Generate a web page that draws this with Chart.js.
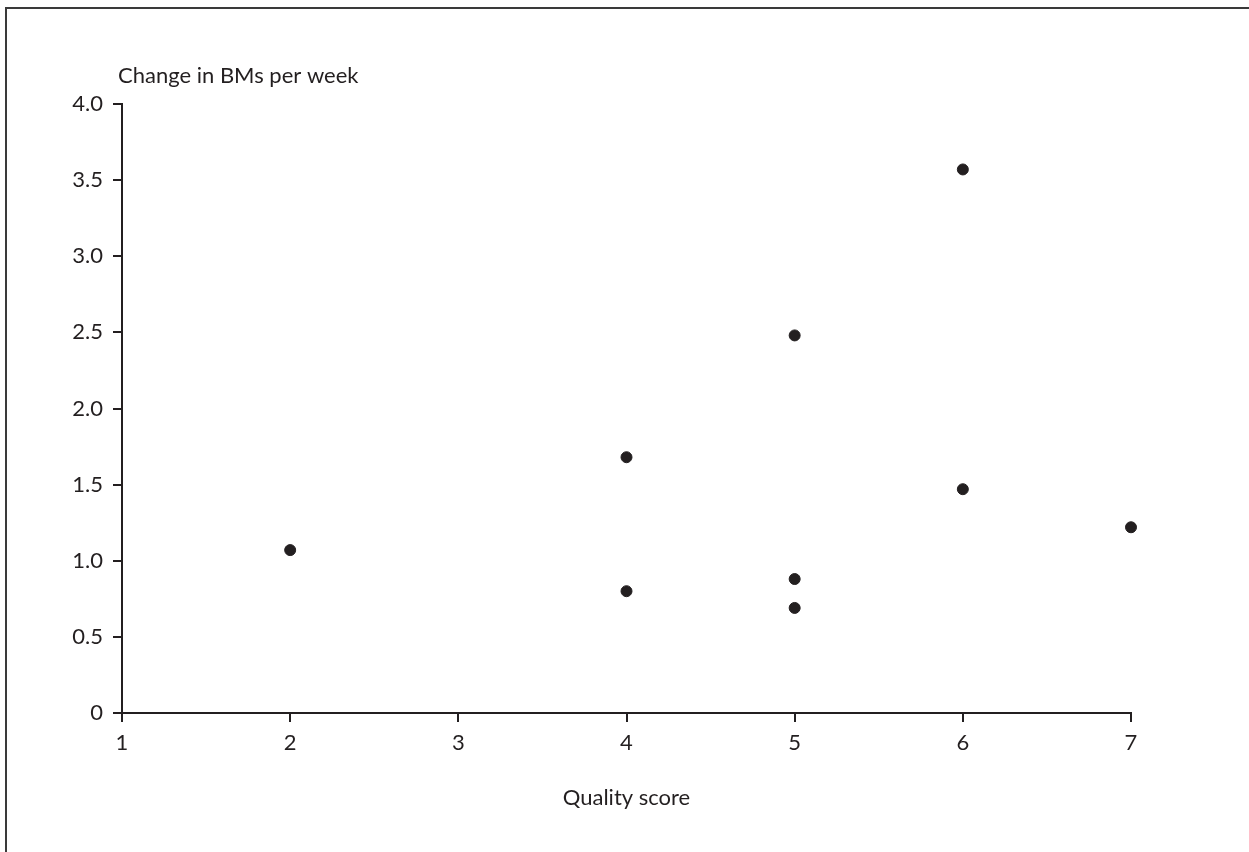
<!DOCTYPE html>
<html>
<head>
<meta charset="utf-8">
<script src="https://cdn.jsdelivr.net/npm/chart.js@4"></script>
<style>
    body { margin: 0; background: #fff; }
    #wrap { position: relative; width: 1249px; height: 852px; overflow: hidden; }
    #frame { position: absolute; left: 5px; top: 7px; right: -10px; bottom: -10px;
             border-left: 2px solid #3a3a3a; border-top: 2px solid #3a3a3a; }
</style>
</head>
<body>
<div id="wrap">
    <div id="frame"></div>
    <canvas id="scatterChart"></canvas>
</div>
<script>
// Data
const qualityScore = [2, 4, 4, 5, 5, 5, 6, 6, 7];
const bmChange = [1.07, 1.68, 0.80, 2.48, 0.88, 0.69, 3.57, 1.47, 1.22];
const xTickLabels = ['1', '2', '3', '4', '5', '6', '7'];
const yTickLabels = ['0', '0.5', '1.0', '1.5', '2.0', '2.5', '3.0', '3.5', '4.0'];

const ink = '#231f20';
const fontFamily = 'Lato, "Open Sans", sans-serif';
const fontSize = 22;

// Horizontal y-axis caption above the axis
const yCaption = {
    id: 'yCaption',
    afterDraw(chart) {
        const ctx = chart.ctx;
        ctx.save();
        ctx.font = fontSize + 'px ' + fontFamily;
        ctx.fillStyle = ink;
        ctx.textAlign = 'left';
        ctx.textBaseline = 'middle';
        ctx.fillText('Change in BMs per week', chart.chartArea.left - 4, 76);
        ctx.restore();
    }
};

const points = qualityScore.map((x, i) => ({ x: x, y: bmChange[i] }));

new Chart(document.getElementById('scatterChart'), {
    type: 'scatter',
    data: {
        datasets: [{
            data: points,
            backgroundColor: ink,
            borderColor: ink,
            pointRadius: 5.5,
            pointHoverRadius: 5.5,
            clip: false
        }]
    },
    options: {
        responsive: true,
        maintainAspectRatio: false,
        animation: false,
        layout: {
            padding: { top: 104, right: 118, bottom: 0, left: 0 }
        },
        plugins: {
            legend: { display: false },
            tooltip: { enabled: false }
        },
        scales: {
            x: {
                type: 'linear',
                min: 1,
                max: 7,
                afterFit: function(scale) { scale.height = 139; },
                grid: {
                    drawOnChartArea: false,
                    drawTicks: true,
                    tickLength: 9,
                    color: ink,
                    lineWidth: 2
                },
                border: { display: true, color: ink, width: 2 },
                ticks: {
                    stepSize: 1,
                    padding: 8,
                    color: ink,
                    font: { family: fontFamily, size: fontSize },
                    callback: function(value, index) { return xTickLabels[index]; }
                },
                title: {
                    display: true,
                    text: 'Quality score',
                    color: ink,
                    font: { family: fontFamily, size: fontSize },
                    padding: { top: 0, bottom: 41 }
                }
            },
            y: {
                min: 0,
                max: 4,
                afterFit: function(scale) { scale.width = 122; },
                grid: {
                    drawOnChartArea: false,
                    drawTicks: true,
                    tickLength: 9,
                    color: ink,
                    lineWidth: 2
                },
                border: { display: true, color: ink, width: 2 },
                ticks: {
                    stepSize: 0.5,
                    padding: 10,
                    color: ink,
                    font: { family: fontFamily, size: fontSize },
                    callback: function(value, index) { return yTickLabels[index]; }
                }
            }
        }
    },
    plugins: [yCaption]
});
</script>
</body>
</html>
